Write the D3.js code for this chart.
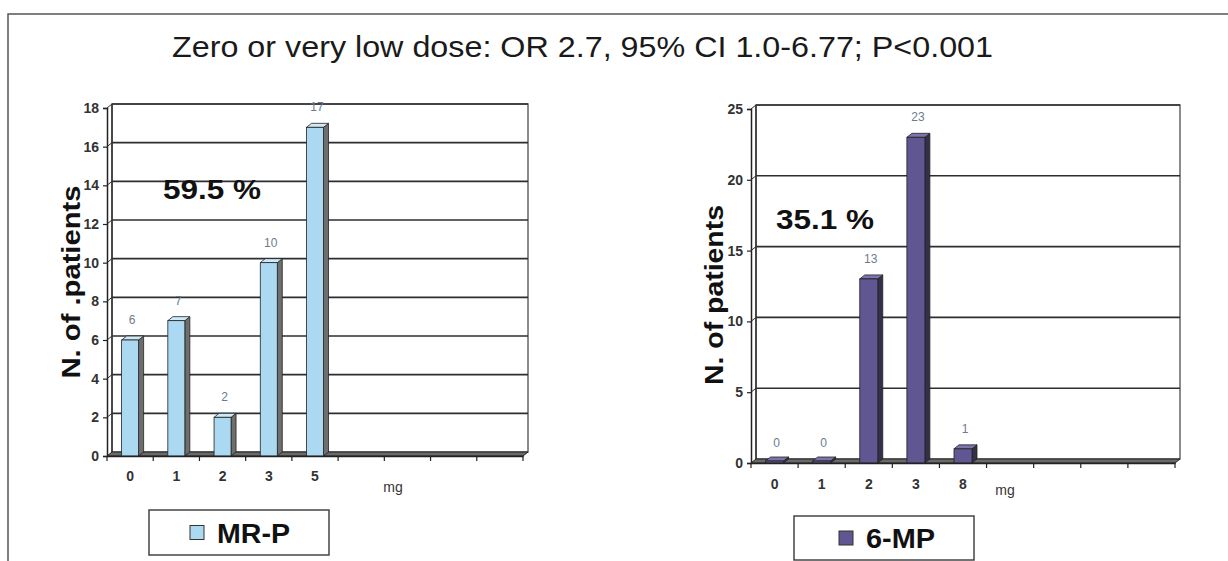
<!DOCTYPE html>
<html>
<head>
<meta charset="utf-8">
<script src="https://cdn.jsdelivr.net/npm/d3@7"></script>
<style>
  html, body { margin: 0; padding: 0; background: #fff; }
  svg { display: block; font-family: Arial, "Liberation Sans", sans-serif; }
</style>
</head>
<body>
<svg id="chart" width="1228" height="561"></svg>
<script>
// ---- data ----
const titleText = "Zero or very low dose: OR 2.7, 95% CI 1.0-6.77; P<0.001";

const mrpDoses = ["0", "1", "2", "3", "5"];
const mrpPatients = [6, 7, 2, 10, 17];
const mrpYTicks = [0, 2, 4, 6, 8, 10, 12, 14, 16, 18];
const mrpShare = "59.5 %";
const mrpName = "MR-P";

const mpDoses = ["0", "1", "2", "3", "8"];
const mpPatients = [0, 0, 13, 23, 1];
const mpYTicks = [0, 5, 10, 15, 20, 25];
const mpShare = "35.1 %";
const mpName = "6-MP";

const slotCount = 9;          // dose slots along each x axis (unused ones stay empty)
const unitLabel = "mg";

const svg = d3.select("#chart");

// outer frame
svg.append("path")
  .attr("d", "M8,561 V14 H1228")
  .attr("fill", "none").attr("stroke", "#555").attr("stroke-width", 1.5);

svg.append("text")
  .attr("x", 172).attr("y", 57)
  .attr("font-size", 29).attr("fill", "#1a1a1a")
  .attr("textLength", 821).attr("lengthAdjust", "spacingAndGlyphs")
  .text(titleText);

function drawPanel(o) {
  const g = svg.append("g");
  const dx = o.depthX, dy = o.depthY;

  // dose slots: real doses followed by empty placeholders
  const slots = o.doses.concat(d3.range(o.doses.length, slotCount).map(i => "_" + i));
  const x = d3.scaleBand().domain(slots).range([o.left, o.right]).paddingInner(0).paddingOuter(0);
  const y = d3.scaleLinear().domain([0, d3.max(o.ticks)]).range([o.bottom, o.top]);
  const yMax = d3.max(o.ticks);

  // back wall
  g.append("rect")
    .attr("x", o.left + dx).attr("y", y(yMax) - dy)
    .attr("width", o.right - o.left).attr("height", o.bottom - y(yMax))
    .attr("fill", "#fff").attr("stroke", "#666").attr("stroke-width", 1.5);

  // horizontal gridlines on the back wall plus their run across the side wall
  o.ticks.filter(t => t > 0).forEach(t => {
    g.append("line")
      .attr("x1", o.left + dx).attr("x2", o.right + dx)
      .attr("y1", y(t) - dy).attr("y2", y(t) - dy)
      .attr("stroke", "#2b2f33").attr("stroke-width", 1.6);
    g.append("line")
      .attr("x1", o.left).attr("x2", o.left + dx)
      .attr("y1", y(t)).attr("y2", y(t) - dy)
      .attr("stroke", "#2b2f33").attr("stroke-width", 1);
  });
  // side wall back edge
  g.append("line")
    .attr("x1", o.left + dx).attr("x2", o.left + dx)
    .attr("y1", y(yMax) - dy).attr("y2", o.bottom - dy)
    .attr("stroke", "#333").attr("stroke-width", 1.5);

  // floor
  g.append("path")
    .attr("d", `M${o.left},${o.bottom} L${o.left + dx},${o.bottom - dy} L${o.right + dx},${o.bottom - dy} L${o.right},${o.bottom} Z`)
    .attr("fill", "#6a6a6a").attr("stroke", "#222").attr("stroke-width", 1);

  // 3D columns
  const bw = o.barWidth;
  const bars = g.selectAll("g.bar")
    .data(o.doses.map((d, i) => ({ dose: d, value: o.values[i] })))
    .join("g").attr("class", "bar");
  const bx = d => x(d.dose) + x.bandwidth() / 2 - bw / 2;
  const by = d => Math.min(y(d.value), o.bottom - 2);

  bars.append("path") // side face
    .attr("d", d => {
      const x0 = bx(d) + bw, t = by(d);
      return `M${x0},${t} L${x0 + dx},${t - dy} L${x0 + dx},${o.bottom - dy} L${x0},${o.bottom} Z`;
    })
    .attr("fill", o.sideColor).attr("stroke", "#222").attr("stroke-width", 0.8);
  bars.append("path") // top face
    .attr("d", d => {
      const x0 = bx(d), t = by(d);
      return `M${x0},${t} L${x0 + dx},${t - dy} L${x0 + bw + dx},${t - dy} L${x0 + bw},${t} Z`;
    })
    .attr("fill", o.topColor).attr("stroke", "#222").attr("stroke-width", 0.8);
  bars.append("rect") // front face
    .attr("x", bx).attr("y", by)
    .attr("width", bw).attr("height", d => o.bottom - by(d))
    .attr("fill", o.color).attr("stroke", "#222").attr("stroke-width", 0.8);

  // value labels
  bars.append("text")
    .attr("x", d => x(d.dose) + x.bandwidth() / 2 + 2)
    .attr("y", d => y(d.value) - 16)
    .attr("text-anchor", "middle")
    .style("font-size", "12px").attr("fill", "#6a7b90")
    .text(d => d.value);

  // y axis on the front edge
  const yAxis = g.append("g")
    .attr("transform", `translate(${o.left},0)`)
    .call(d3.axisLeft(y).tickValues(o.ticks).tickSize(4).tickPadding(4).tickFormat(d3.format("d")));
  yAxis.select(".domain").attr("stroke", "#222").attr("stroke-width", 1.5);
  yAxis.selectAll(".tick line").attr("stroke", "#222").attr("stroke-width", 1.2);
  yAxis.selectAll(".tick text")
    .style("font-size", "14px").style("font-weight", "bold").attr("fill", "#333")
    .style("font-family", "Arial, 'Liberation Sans', sans-serif");

  // x axis: labels at slot centres, ticks at slot boundaries
  const xAxis = g.append("g")
    .attr("transform", `translate(0,${o.bottom})`)
    .call(d3.axisBottom(x).tickSize(0).tickPadding(o.labelGap).tickFormat(d => d.startsWith("_") ? "" : d));
  xAxis.select(".domain").attr("stroke", "#222").attr("stroke-width", 1.5);
  xAxis.selectAll(".tick text")
    .style("font-size", "14px").style("font-weight", "bold").attr("fill", "#333")
    .style("font-family", "Arial, 'Liberation Sans', sans-serif");
  g.selectAll("line.slot")
    .data(slots.map(s => x(s)).concat([o.right]))
    .join("line").attr("class", "slot")
    .attr("x1", d => d).attr("x2", d => d)
    .attr("y1", o.bottom).attr("y2", o.bottom + 5)
    .attr("stroke", "#222").attr("stroke-width", 1.2);

  // unit label
  g.append("text")
    .attr("x", o.unitX).attr("y", o.unitY)
    .attr("text-anchor", "middle")
    .style("font-size", "14px").attr("fill", "#333")
    .text(unitLabel);

  // y axis title
  g.append("text")
    .attr("transform", `translate(${o.titleX},${o.titleY}) rotate(-90)`)
    .attr("x", -o.titleLen / 2)
    .attr("font-size", 26).attr("font-weight", "bold").attr("fill", "#111")
    .attr("textLength", o.titleLen).attr("lengthAdjust", "spacingAndGlyphs")
    .text(o.yTitle);

  // percentage annotation
  g.append("text")
    .attr("x", o.shareX).attr("y", o.shareY)
    .attr("font-size", 27).attr("font-weight", "bold").attr("fill", "#111")
    .attr("textLength", 98).attr("lengthAdjust", "spacingAndGlyphs")
    .text(o.share);

  // legend
  const lg = g.append("g");
  lg.append("rect")
    .attr("x", o.legend[0]).attr("y", o.legend[1])
    .attr("width", o.legend[2]).attr("height", o.legend[3])
    .attr("fill", "#fff").attr("stroke", "#444").attr("stroke-width", 1.5);
  lg.append("rect")
    .attr("x", o.legend[4]).attr("y", o.legend[1] + o.legend[3] / 2 - 7)
    .attr("width", 14).attr("height", 14)
    .attr("fill", o.color).attr("stroke", "#333").attr("stroke-width", 1);
  lg.append("text")
    .attr("x", o.legend[4] + 27).attr("y", o.legend[1] + o.legend[3] / 2 + 10)
    .attr("font-size", 27).attr("font-weight", "bold").attr("fill", "#111")
    .attr("textLength", o.legend[5]).attr("lengthAdjust", "spacingAndGlyphs")
    .text(o.name);
}

drawPanel({
  doses: mrpDoses, values: mrpPatients, ticks: mrpYTicks,
  left: 107, right: 523, top: 108, bottom: 456,
  depthX: 5, depthY: 4, barWidth: 17, labelGap: 15,
  color: "#abd9f1", sideColor: "#6e6e6e", topColor: "#cfe9f7",
  unitX: 393, unitY: 492,
  yTitle: "N. of .patients", titleX: 80, titleY: 282, titleLen: 193,
  share: mrpShare, shareX: 163, shareY: 199,
  name: mrpName, legend: [149, 510, 180, 45, 190, 73]
});

drawPanel({
  doses: mpDoses, values: mpPatients, ticks: mpYTicks,
  left: 751, right: 1175, top: 109, bottom: 463,
  depthX: 5, depthY: 4, barWidth: 18, labelGap: 16,
  color: "#5f5692", sideColor: "#34304a", topColor: "#7d74ad",
  unitX: 1005, unitY: 495,
  yTitle: "N. of patients", titleX: 723, titleY: 295, titleLen: 180,
  share: mpShare, shareX: 776, shareY: 229,
  name: mpName, legend: [794, 516, 180, 44, 839, 69]
});
</script>
</body>
</html>
